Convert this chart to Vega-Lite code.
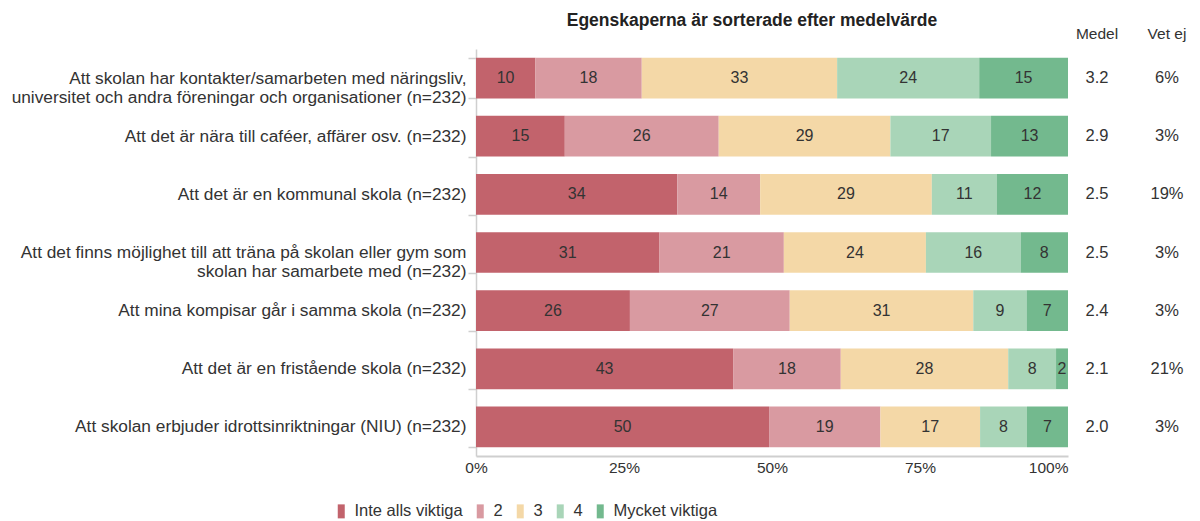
{
  "$schema": "https://vega.github.io/schema/vega-lite/v6.json",
  "background": "white",
  "padding": {"left": 11, "top": 11, "right": 5, "bottom": 5},
  "spacing": 0,
  "config": {
    "font": "Liberation Sans",
    "view": {"stroke": null},
    "concat": {"spacing": 0}
  },
  "datasets": {
    "items": [
      {"r": 1, "item": "Att skolan har kontakter/samarbeten med näringsliv,|universitet och andra föreningar och organisationer (n=232)", "medel": "3.2", "vetej": "6%"},
      {"r": 2, "item": "Att det är nära till caféer, affärer osv. (n=232)", "medel": "2.9", "vetej": "3%"},
      {"r": 3, "item": "Att det är en kommunal skola (n=232)", "medel": "2.5", "vetej": "19%"},
      {"r": 4, "item": "Att det finns möjlighet till att träna på skolan eller gym som|skolan har samarbete med (n=232)", "medel": "2.5", "vetej": "3%"},
      {"r": 5, "item": "Att mina kompisar går i samma skola (n=232)", "medel": "2.4", "vetej": "3%"},
      {"r": 6, "item": "Att det är en fristående skola (n=232)", "medel": "2.1", "vetej": "21%"},
      {"r": 7, "item": "Att skolan erbjuder idrottsinriktningar (NIU) (n=232)", "medel": "2.0", "vetej": "3%"}
    ],
    "bars": [
      {"r": 1, "k": 1, "level": "Inte alls viktiga", "v": 10},
      {"r": 1, "k": 2, "level": "2", "v": 18},
      {"r": 1, "k": 3, "level": "3", "v": 33},
      {"r": 1, "k": 4, "level": "4", "v": 24},
      {"r": 1, "k": 5, "level": "Mycket viktiga", "v": 15},
      {"r": 2, "k": 1, "level": "Inte alls viktiga", "v": 15},
      {"r": 2, "k": 2, "level": "2", "v": 26},
      {"r": 2, "k": 3, "level": "3", "v": 29},
      {"r": 2, "k": 4, "level": "4", "v": 17},
      {"r": 2, "k": 5, "level": "Mycket viktiga", "v": 13},
      {"r": 3, "k": 1, "level": "Inte alls viktiga", "v": 34},
      {"r": 3, "k": 2, "level": "2", "v": 14},
      {"r": 3, "k": 3, "level": "3", "v": 29},
      {"r": 3, "k": 4, "level": "4", "v": 11},
      {"r": 3, "k": 5, "level": "Mycket viktiga", "v": 12},
      {"r": 4, "k": 1, "level": "Inte alls viktiga", "v": 31},
      {"r": 4, "k": 2, "level": "2", "v": 21},
      {"r": 4, "k": 3, "level": "3", "v": 24},
      {"r": 4, "k": 4, "level": "4", "v": 16},
      {"r": 4, "k": 5, "level": "Mycket viktiga", "v": 8},
      {"r": 5, "k": 1, "level": "Inte alls viktiga", "v": 26},
      {"r": 5, "k": 2, "level": "2", "v": 27},
      {"r": 5, "k": 3, "level": "3", "v": 31},
      {"r": 5, "k": 4, "level": "4", "v": 9},
      {"r": 5, "k": 5, "level": "Mycket viktiga", "v": 7},
      {"r": 6, "k": 1, "level": "Inte alls viktiga", "v": 43},
      {"r": 6, "k": 2, "level": "2", "v": 18},
      {"r": 6, "k": 3, "level": "3", "v": 28},
      {"r": 6, "k": 4, "level": "4", "v": 8},
      {"r": 6, "k": 5, "level": "Mycket viktiga", "v": 2},
      {"r": 7, "k": 1, "level": "Inte alls viktiga", "v": 50},
      {"r": 7, "k": 2, "level": "2", "v": 19},
      {"r": 7, "k": 3, "level": "3", "v": 17},
      {"r": 7, "k": 4, "level": "4", "v": 8},
      {"r": 7, "k": 5, "level": "Mycket viktiga", "v": 7}
    ]
  },
  "hconcat": [
    {
      "width": 592,
      "height": 407,
      "title": {"text": "Egenskaperna är sorterade efter medelvärde", "fontSize": 17.5, "fontWeight": "bold", "color": "#222", "anchor": "middle", "dx": -20, "offset": 11},
      "data": {"name": "bars"},
      "transform": [
        {"lookup": "r", "from": {"data": {"name": "items"}, "key": "r", "fields": ["item"]}},
        {"stack": "v", "groupby": ["r"], "sort": [{"field": "k"}], "offset": "normalize", "as": ["p0", "p1"]},
        {"calculate": "(datum.p0 + datum.p1) / 2", "as": "mid"}
      ],
      "encoding": {
        "y": {
          "field": "item", "type": "nominal",
          "sort": {"field": "r", "op": "min"},
          "scale": {"paddingInner": 0.3, "paddingOuter": 0.15},
          "axis": {
            "title": null,
            "labelExpr": "split(datum.label, '|')",
            "labelFontSize": 17.3, "labelColor": "#333", "labelLimit": 700, "labelLineHeight": 19,
            "tickBand": "extent", "tickSize": 8, "tickColor": "#cfcfcf", "tickWidth": 1.5,
            "domainColor": "#cfcfcf", "domainWidth": 1.5, "labelPadding": 2
          }
        }
      },
      "layer": [
        {
          "mark": {"type": "bar"},
          "encoding": {
            "x": {
              "field": "p0", "type": "quantitative",
              "scale": {"domain": [0, 1], "nice": false},
              "axis": {
                "title": null, "values": [0, 0.25, 0.5, 0.75, 1], "format": ".0%",
                "grid": false, "ticks": false, "labelFontSize": 15.5, "labelColor": "#333",
                "domainColor": "#cfcfcf", "domainWidth": 2, "labelPadding": 4,
                "labelAlign": {"condition": {"test": "datum.value == 1", "value": "right"}, "value": "center"}
              }
            },
            "x2": {"field": "p1"},
            "color": {
              "field": "level", "type": "nominal",
              "scale": {
                "domain": ["Inte alls viktiga", "2", "3", "4", "Mycket viktiga"],
                "range": ["#c2636c", "#d99aa1", "#f4d8a7", "#a9d5b8", "#73b98e"]
              },
              "legend": {
                "title": null, "orient": "none", "direction": "horizontal",
                "legendX": -143, "legendY": 454,
                "labelFontSize": 16.5, "labelColor": "#333",
                "symbolType": "M-0.5,-1H0.5V1H-0.5Z", "symbolSize": 196,
                "symbolStrokeWidth": 0, "symbolOpacity": 1,
                "columnPadding": 9, "labelOffset": 5
              }
            }
          }
        },
        {
          "mark": {"type": "text", "fontSize": 16, "color": "#333"},
          "encoding": {
            "x": {"field": "mid", "type": "quantitative"},
            "text": {"field": "v", "type": "quantitative"}
          }
        }
      ]
    },
    {
      "width": 58,
      "height": 407,
      "title": {"text": "Medel", "fontSize": 15.5, "fontWeight": "normal", "color": "#333", "anchor": "middle", "offset": 7},
      "data": {"name": "items"},
      "mark": {"type": "text", "fontSize": 16.5, "color": "#333"},
      "encoding": {
        "y": {"field": "item", "type": "nominal", "sort": {"field": "r", "op": "min"}, "scale": {"paddingInner": 0.3, "paddingOuter": 0.15}, "axis": null},
        "text": {"field": "medel", "type": "nominal"}
      }
    },
    {
      "width": 82,
      "height": 407,
      "title": {"text": "Vet ej", "fontSize": 15.5, "fontWeight": "normal", "color": "#333", "anchor": "middle", "offset": 7},
      "data": {"name": "items"},
      "mark": {"type": "text", "fontSize": 16.5, "color": "#333"},
      "encoding": {
        "y": {"field": "item", "type": "nominal", "sort": {"field": "r", "op": "min"}, "scale": {"paddingInner": 0.3, "paddingOuter": 0.15}, "axis": null},
        "text": {"field": "vetej", "type": "nominal"}
      }
    }
  ]
}
